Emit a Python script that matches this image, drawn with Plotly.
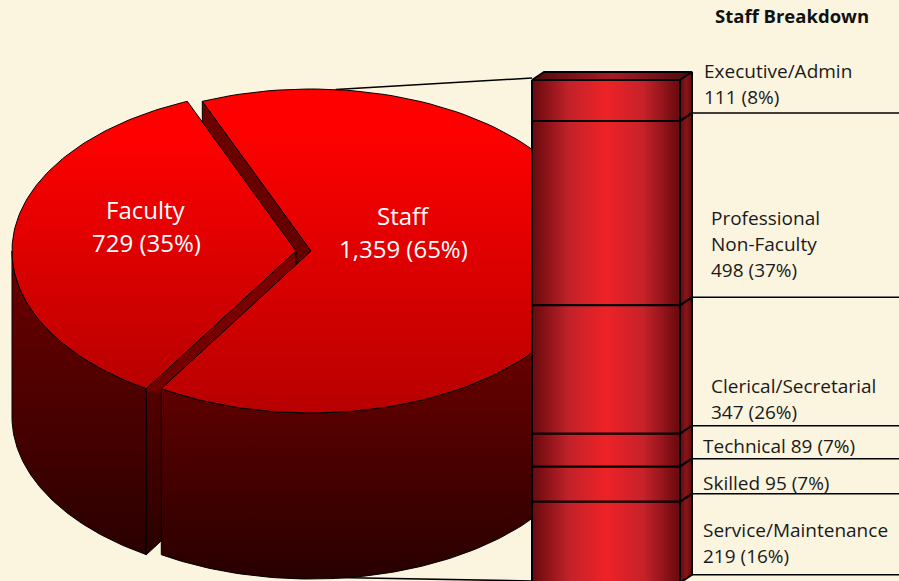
import numpy as np
import plotly.graph_objects as go

# values
pie_labels = ['Faculty', 'Staff']
pie_counts = [729, 1359]
staff_labels = [
    ['Executive/Admin'],
    ['Professional', 'Non-Faculty'],
    ['Clerical/Secretarial'],
    ['Technical'],
    ['Skilled'],
    ['Service/Maintenance'],
]
staff_counts = [111, 498, 347, 89, 95, 219]

# where the text sits: (x, y of first line), one-line entries keep name and count together
label_pos = [(702, 71), (709, 218), (709, 386), (701, 446), (701, 483), (701, 530)]
inline_label = [False, False, False, True, True, False]

BG = '#FBF4DF'
CY, A, B, DEPTH = 251, 284, 162, 166
STAFF_CX, FACULTY_CX = 311, 296
START_ANGLE = 112.5
BAR_LEFT, BAR_RIGHT, BAR_TOP, BAR_SCALE = 532, 680, 80, 0.37
BACK_X, BACK_Y = 12, -8

TOP_GRAD = [[0, '#FF0000'], [0.12, '#FF0000'], [1, '#B80000']]
FACULTY_WALL_GRAD = [[0, '#6E0000'], [0.65, '#420000'], [1, '#2A0000']]
STAFF_WALL_GRAD = [[0, '#800000'], [0.45, '#5C0000'], [1, '#280000']]
BAR_GRAD = [[0, '#660A0E'], [0.25, '#C2222A'], [0.5, '#EE2227'], [0.75, '#C6222A'], [1, '#660A0E']]
SIDE_GRAD = [[0, '#5A0A0E'], [0.5, '#8A1518'], [1, '#660A0E']]
TOP_BAR_GRAD = [[0, '#4E0A0C'], [0.5, '#A81C22'], [1, '#4E0A0C']]


def rim(cx, t0, t1, dy=0):
    t = np.radians(np.linspace(t0, t1, 120))
    return cx + A * np.cos(t), CY - B * np.sin(t) + dy


def add_poly(fig, x, y, colors, kind='vertical', width=1):
    # explicit start/stop so the gradient follows the reversed y axis
    vals = x if kind == 'horizontal' else y
    grad = dict(type=kind, colorscale=colors, start=min(vals), stop=max(vals))
    fig.add_trace(go.Scatter(x=list(x) + [x[0]], y=list(y) + [y[0]], mode='lines', fill='toself',
                             fillgradient=grad, line=dict(color='black', width=width),
                             hoverinfo='skip', showlegend=False))


def add_line(fig, x, y, width=1.5):
    fig.add_trace(go.Scatter(x=x, y=y, mode='lines', line=dict(color='black', width=width),
                             hoverinfo='skip', showlegend=False))


def add_text(fig, x, y, text, size, color='#1A1A1A', anchor='left', bold=False):
    fig.add_annotation(x=x, y=y, text=f'<b>{text}</b>' if bold else text, showarrow=False, xanchor=anchor,
                       yanchor='middle', font=dict(family='Open Sans', size=size, color=color))


sweep = 360 * pie_counts[0] / sum(pie_counts)
fac_end = START_ANGLE + sweep

fig = go.Figure()

# leader lines from the pie to the bar
lx, ly = rim(STAFF_CX, 85, 85)
add_line(fig, [lx[0], BAR_LEFT], [ly[0], 78], 1.5)
add_line(fig, [lx[0], BAR_LEFT], [ly[0] + DEPTH + 322, 581], 1.5)

# staff cut face seen through the gap
ex, ey = rim(STAFF_CX, START_ANGLE, START_ANGLE)
add_poly(fig, [ex[0], STAFF_CX, STAFF_CX, ex[0]], [ey[0], CY, CY + DEPTH, ey[0] + DEPTH],
         [[0, '#6E0000'], [1, '#5A0000']])

# faculty wall, cut face, top
wx, wy = rim(FACULTY_CX, 180, fac_end)
bx, by = rim(FACULTY_CX, fac_end, 180, DEPTH)
add_poly(fig, np.r_[wx, bx], np.r_[wy, by], FACULTY_WALL_GRAD)
ex, ey = rim(FACULTY_CX, fac_end, fac_end)
add_poly(fig, [FACULTY_CX, ex[0], ex[0], FACULTY_CX], [CY, ey[0], ey[0] + DEPTH, CY + DEPTH],
         [[0, '#800000'], [0.46, '#700000'], [0.47, '#520000'], [1, '#2A0000']])
rx, ry = rim(FACULTY_CX, START_ANGLE, fac_end)
add_poly(fig, np.r_[FACULTY_CX, rx], np.r_[CY, ry], TOP_GRAD)

# staff wall, top
wx, wy = rim(STAFF_CX, fac_end, 360)
bx, by = rim(STAFF_CX, 360, fac_end, DEPTH)
add_poly(fig, np.r_[wx, bx], np.r_[wy, by], STAFF_WALL_GRAD)
rx, ry = rim(STAFF_CX, fac_end, START_ANGLE + 360)
add_poly(fig, np.r_[STAFF_CX, rx], np.r_[CY, ry], TOP_GRAD)

# stacked bar
edges = BAR_TOP + BAR_SCALE * np.r_[0, np.cumsum(staff_counts)]
add_poly(fig, [BAR_LEFT, BAR_LEFT + BACK_X, BAR_RIGHT + BACK_X, BAR_RIGHT],
         [BAR_TOP, BAR_TOP + BACK_Y, BAR_TOP + BACK_Y, BAR_TOP], TOP_BAR_GRAD, 'horizontal', width=2)
for y0, y1 in zip(edges[:-1], edges[1:]):
    add_poly(fig, [BAR_LEFT, BAR_RIGHT, BAR_RIGHT, BAR_LEFT], [y0, y0, y1, y1], BAR_GRAD, 'horizontal', width=2)
    add_poly(fig, [BAR_RIGHT, BAR_RIGHT + BACK_X, BAR_RIGHT + BACK_X, BAR_RIGHT],
             [y0, y0 + BACK_Y, y1 + BACK_Y, y1], SIDE_GRAD, 'horizontal', width=2)
    add_line(fig, [BAR_RIGHT + BACK_X, 899], [y1 + BACK_Y, y1 + BACK_Y])

# text
for i, name in enumerate(pie_labels):
    x, y = [(146, 209), (403, 215)][i]
    pct = 100 * pie_counts[i] / sum(pie_counts)
    add_text(fig, x, y, name, 24, 'white', 'center')
    add_text(fig, x, y + 33, f'{pie_counts[i]:,} ({pct:.0f}%)', 24, 'white', 'center')

add_text(fig, 792, 15, 'Staff Breakdown', 18.5, '#111111', 'center', bold=True)
total = sum(staff_counts)
for lines, n, (x, y), inline in zip(staff_labels, staff_counts, label_pos, inline_label):
    tail = f'{n} ({100 * n / total:.0f}%)'
    rows = [lines[0] + ' ' + tail] if inline else lines + [tail]
    for j, row in enumerate(rows):
        add_text(fig, x, y + 26 * j, row, 19)

fig.update_layout(
    width=899,
    height=581,
    margin=dict(l=0, r=0, t=0, b=0),
    paper_bgcolor=BG,
    plot_bgcolor=BG,
    showlegend=False,
    xaxis=dict(range=[0, 899], visible=False, fixedrange=True),
    yaxis=dict(range=[581, 0], visible=False, fixedrange=True),
)
fig.write_html('out.html', config=dict(displayModeBar=False),
               post_script="document.body.style.margin='0';")
